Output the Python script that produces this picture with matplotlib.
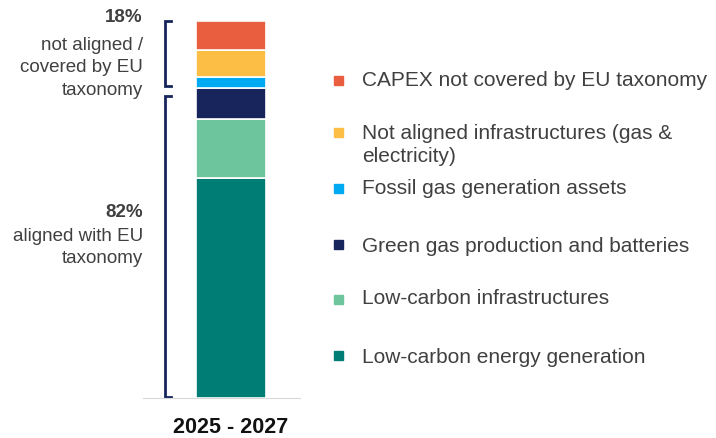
import matplotlib
matplotlib.use("Agg")
from matplotlib import pyplot as plt
from matplotlib.patches import Rectangle

plt.rcParams['font.family'] = ['Liberation Sans', 'DejaVu Sans']

# shares of 2025-2027 capex, bottom to top (%)
categories = [
    "Low-carbon energy generation",
    "Low-carbon infrastructures",
    "Green gas production and batteries",
    "Fossil gas generation assets",
    "Not aligned infrastructures (gas &\nelectricity)",
    "CAPEX not covered by EU taxonomy",
]
values = [58.4, 15.6, 8.2, 2.8, 7.2, 7.8]
colors = ["#007D74", "#6DC59D", "#17255C", "#00AAF2", "#FDBE46", "#E95E3E"]
period = "2025 - 2027"
aligned_share = 82
not_aligned_share = 18

text_col = "#404040"
W, H = 716, 439

fig = plt.figure(figsize=(W / 100, H / 100), dpi=100)
ax = fig.add_axes([143 / W, (H - 399.3) / H, 157 / W, 377.6 / H])

bottom = 0
for v, c in zip(values, colors):
    ax.bar(0, v, bottom=bottom, width=0.89, color=c, edgecolor="white", linewidth=1.2)
    bottom += v

ax.set_xlim(-1.118, 0.882)
ax.set_ylim(0, 100)
for s in ["top", "right", "left"]:
    ax.spines[s].set_visible(False)
ax.spines["bottom"].set_color("#d9d9d9")
ax.set_yticks([])
ax.set_xticks([0])
ax.set_xticklabels([period], fontsize=15.5, fontweight="bold", color="#111111")
ax.tick_params(axis="x", length=0, pad=13)

# brackets
bx, tx = -0.838, -0.755
brk = dict(color="#17255C", linewidth=2, clip_on=False, solid_joinstyle="miter")
ax.plot([tx, bx, bx, tx], [99.8, 99.8, 82.6, 82.6], **brk)
ax.plot([tx, bx, bx, tx], [80.1, 80.1, 0.4, 0.4], **brk)

# group labels
lx = -1.118
fs = 13.5
ax.text(lx, 101.0, f"{not_aligned_share}%", ha="right", va="center", fontsize=fs,
        fontweight="bold", color=text_col)
for y, t in zip([93.6, 87.8, 81.9], ["not aligned /", "covered by EU", "taxonomy"]):
    ax.text(lx, y, t, ha="right", va="center", fontsize=fs, color=text_col)
ax.text(lx, 49.6, f"{aligned_share}%", ha="right", va="center", fontsize=fs,
        fontweight="bold", color=text_col)
for y, t in zip([43.2, 37.2], ["aligned with EU", "taxonomy"]):
    ax.text(lx, y, t, ha="right", va="center", fontsize=fs, color=text_col)

# legend, top to bottom
leg_y = [81, 145, 189, 247, 299, 358]
mark_y = [81, 133, 189, 245, 300, 356]
for lab, c, ty, my in zip(categories[::-1], colors[::-1], leg_y, mark_y):
    fig.add_artist(Rectangle((334 / W, (H - my - 4.5) / H), 9 / W, 9 / H,
                             transform=fig.transFigure, color=c))
    fig.text(362 / W, (H - ty) / H, lab, ha="left", va="center", fontsize=15,
             color=text_col, linespacing=1.27)

fig.savefig("out.png", dpi=100)
